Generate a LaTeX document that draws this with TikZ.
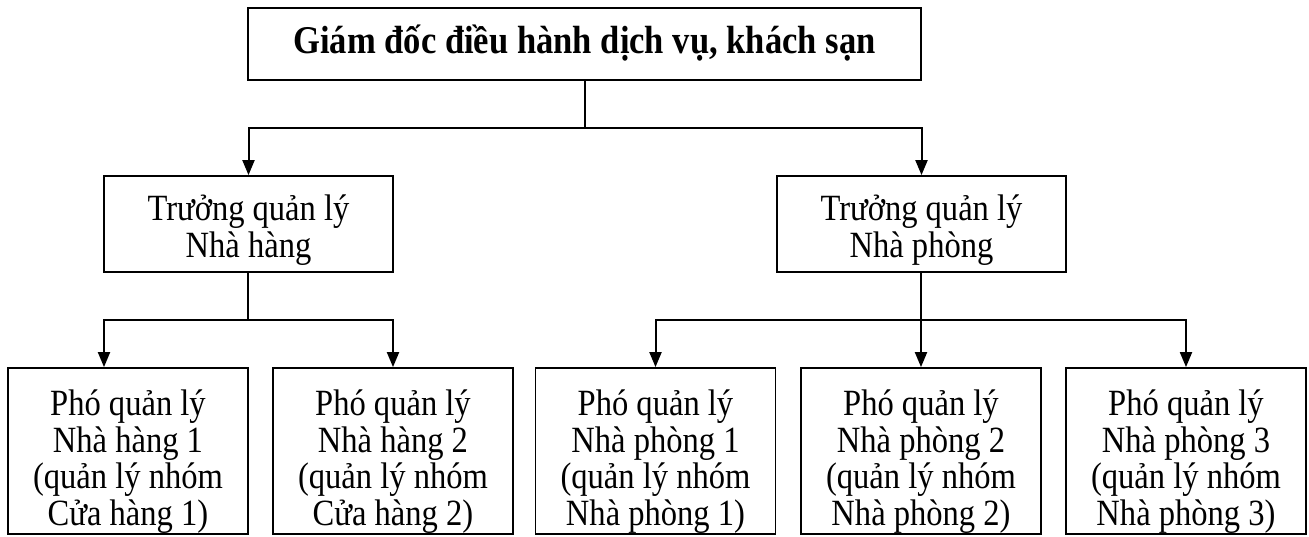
\documentclass[tikz,border=0pt]{standalone}
\usepackage{fontspec}
\setmainfont{Liberation Serif}[FakeStretch=0.88]
\usetikzlibrary{arrows.meta}

\begin{document}
\begin{tikzpicture}[x=1pt, y=-1pt,
                    box/.style = {shape=rectangle, draw, line width=1.8pt, inner sep=0pt, align=center,
                                  font=\fontsize{37}{36.5}\selectfont},
                    head/.style = {box, minimum width=673pt, minimum height=72pt,
                                   font=\bfseries\fontsize{39.3}{36.5}\selectfont, text height=26pt, text depth=8pt},
                    chief/.style = {box, minimum width=289pt, minimum height=96pt, text height=74pt, text depth=8pt},
                    deputy/.style = {box, minimum width=240pt, minimum height=166pt, text height=156pt, text depth=8pt},
                    link/.style = {line width=2pt},
                    arr/.style = {link, -{Triangle[length=15pt, width=12pt]}}]

  \useasboundingbox (0,0) rectangle (1309,536);

  \node[head] (ceo) at (584.5,44) {Giám đốc điều hành dịch vụ, khách sạn};

  \node[chief] (nh) at (248.5,224) {Trưởng quản lý\\Nhà hàng};
  \node[chief] (np) at (921.5,224) {Trưởng quản lý\\Nhà phòng};

  \node[deputy] (nh1) at (128,451)   {Phó quản lý\\Nhà hàng 1\\(quản lý nhóm\\Cửa hàng 1)};
  \node[deputy] (nh2) at (393,451)   {Phó quản lý\\Nhà hàng 2\\(quản lý nhóm\\Cửa hàng 2)};
  \node[deputy] (np1) at (655.5,451) {Phó quản lý\\Nhà phòng 1\\(quản lý nhóm\\Nhà phòng 1)};
  \node[deputy] (np2) at (921,451)   {Phó quản lý\\Nhà phòng 2\\(quản lý nhóm\\Nhà phòng 2)};
  \node[deputy] (np3) at (1186,451)  {Phó quản lý\\Nhà phòng 3\\(quản lý nhóm\\Nhà phòng 3)};

  % top level
  \coordinate (jt) at (585,128);
  \draw[link] (ceo.south -| jt) -- (jt);
  \draw[arr] (jt) -| (nh.north);
  \draw[arr] (jt) -| (np.north);

  % restaurant side
  \coordinate (jl) at (248,320);
  \draw[link] (nh.south -| jl) -- (jl);
  \draw[arr] (jl) -| ([xshift=-24pt]nh1.north);
  \draw[arr] (jl) -| (nh2.north);

  % rooms side
  \coordinate (jr) at (921,320);
  \draw[link] (np.south -| jr) -- (jr);
  \draw[arr] (jr) -| (np1.north);
  \draw[arr] (jr) -- (np2.north);
  \draw[arr] (jr) -| (np3.north);
\end{tikzpicture}
\end{document}
